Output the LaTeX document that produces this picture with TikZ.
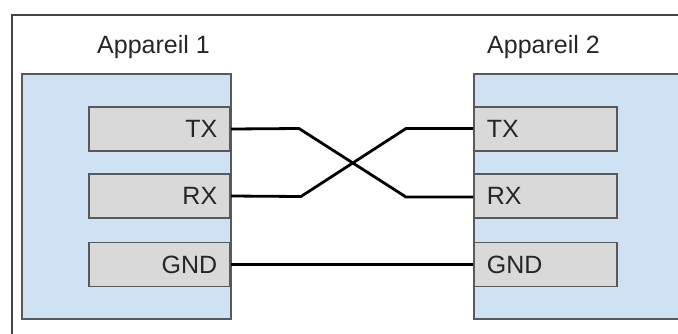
\documentclass[tikz,border=0pt]{standalone}
\usepackage{fontspec}
\setmainfont{Liberation Sans}
\definecolor{devblue}{HTML}{CFE2F3}
\definecolor{pingray}{HTML}{D9D9D9}
\definecolor{edgegray}{HTML}{595959}
\definecolor{framegray}{HTML}{444444}
\definecolor{txtgray}{HTML}{262626}
\begin{document}
\begin{tikzpicture}[x=1pt,y=-1pt,
  devbox/.style={draw=edgegray,line width=1.6pt,fill=devblue},
  pinL/.style={draw=edgegray,line width=1.6pt,fill=pingray,inner xsep=13pt,inner ysep=0pt,
    text width=115pt,align=right,minimum height=44pt,text height=17.9pt,text depth=0pt,
    font=\fontsize{25}{29}\selectfont,text=txtgray},
  pinR/.style={pinL,align=left,text width=117pt},
  title/.style={font=\fontsize{25}{29}\selectfont,text=txtgray,inner sep=0pt,anchor=base west},
  wire/.style={draw=black,line width=2.8pt,line join=miter}]
\useasboundingbox (0,0) rectangle (678,333);
\clip (0,0) rectangle (678,333);
% outer frame (only left and top edges visible)
\draw[framegray,line width=2.2pt] (12,345) -- (12,15) -- (690,15);
% devices
\node[devbox,inner sep=0pt,minimum width=209pt,minimum height=245pt] (dev1) at (126.5,196.5) {};
\node[devbox,inner sep=0pt,minimum width=230pt,minimum height=245pt,anchor=west] (dev2) at (473,196.5) {};
\node[title] (t1) at (97,53) {Appareil 1};
\node[title] (t2) at (487,53) {Appareil 2};
% pins device 1
\node[pinL,anchor=east] (tx1) at (231,129) {TX};
\node[pinL,anchor=east] (rx1) at (231,196) {RX};
\node[pinL,anchor=east] (gnd1) at (231,264.5) {GND};
% pins device 2
\node[pinR,anchor=west] (tx2) at (473,129) {TX};
\node[pinR,anchor=west] (rx2) at (473,196) {RX};
\node[pinR,anchor=west] (gnd2) at (473,264.5) {GND};
% bends
\coordinate (a1) at (299,128.5);
\coordinate (a2) at (406,197);
\coordinate (b1) at (301,196.5);
\coordinate (b2) at (406,128.5);
% wires
\draw[wire] (tx1.east) -- (a1) -- (a2) -- (a2 -| rx2.west);
\draw[wire] (rx1.east) -- (b1) -- (b2) -- (b2 -| tx2.west);
\draw[wire] (gnd1.east) -- (gnd2.west);
\end{tikzpicture}
\end{document}
